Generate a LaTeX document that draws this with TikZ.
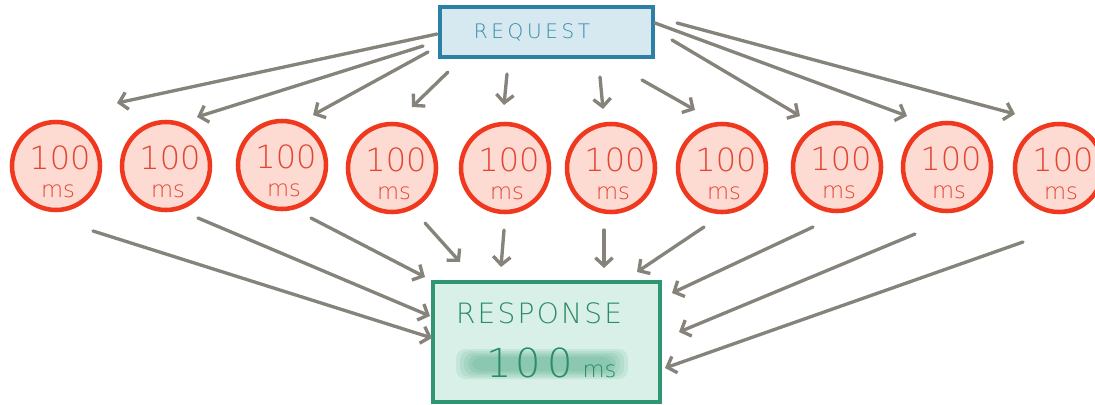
\documentclass[tikz,border=0pt]{standalone}
\usepackage{fontspec}
\usetikzlibrary{arrows.meta}
\newfontfamily\hand{DejaVu Sans ExtraLight}
\definecolor{arrowgray}{RGB}{134,131,122}
\definecolor{reqfill}{RGB}{214,233,240}
\definecolor{reqline}{RGB}{44,128,166}
\definecolor{reqtext}{RGB}{52,136,170}
\definecolor{respfill}{RGB}{217,240,232}
\definecolor{respline}{RGB}{46,150,112}
\definecolor{resptext}{RGB}{40,140,100}
\definecolor{bandgreen}{RGB}{60,160,120}
\definecolor{callfill}{RGB}{253,218,210}
\definecolor{callline}{RGB}{240,56,30}
\definecolor{calltext}{RGB}{226,70,50}
\tikzset{
  flow/.style={draw=arrowgray, line width=2.5pt, line cap=round,
    -{Straight Barb[length=6pt,width=13pt,line width=2.5pt]}},
  reqbox/.style={draw=reqline, fill=reqfill, line width=2.8pt,
    minimum width=213*0.75pt, minimum height=50*0.75pt, inner sep=0pt},
  respbox/.style={draw=respline, fill=respfill, line width=2.8pt,
    minimum width=227*0.75pt, minimum height=120*0.75pt, inner sep=0pt},
  call/.style={circle, draw=callline, fill=callfill, line width=3.4pt,
    minimum size=88*0.75pt, inner sep=0pt},
  calltxt/.style={text=calltext, font=\hand\fontsize{24}{24}\selectfont, inner sep=0pt},
  msstyle/.style={text=calltext, font=\hand\fontsize{17}{17}\selectfont, inner sep=0pt},
}
\begin{document}
\begin{tikzpicture}[x=0.75pt, y=-0.75pt]
  \useasboundingbox (0,0) rectangle (1095,404);

  % request and response boxes
  \node[reqbox] (req) at (546.5,32) {};
  \node[text=reqtext, font=\hand\fontsize{15}{15}\selectfont\addfontfeatures{LetterSpace=18}] (reqlbl) at (532,32) {REQUEST};

  \node[respbox] (resp) at (546.5,342) {};
  % soft highlight behind the timing
  \foreach \w/\h in {86/15,82/13,78/11,74/9,70/7} {
    \fill[bandgreen, opacity=0.12, rounded corners=7pt]
      ([shift={(-\w,-\h)}]542,364) rectangle ([shift={(\w,\h)}]542,364);
  }
  \node[text=resptext, font=\hand\fontsize{21}{21}\selectfont\addfontfeatures{LetterSpace=8}] (resplbl) at (539,313) {RESPONSE};
  \node[text=resptext, font=\hand\fontsize{30}{30}\selectfont, inner sep=0pt, anchor=base west] (resptime) at (486,377)
    {1\hspace{3pt}0\hspace{5pt}0\hspace{7pt}{\fontsize{17}{17}\selectfont ms}};

  % the ten parallel calls
  \foreach \i/\x/\y in {1/56/166,2/166/166,3/282/165,4/392/168,5/505/168,
                        6/611/168,7/722/168,8/837/167,9/947/167,10/1059/168} {
    \node[call] (c\i) at (\x,\y) {};
    \node[calltxt] (n\i) at (\x+4,\y-8) {100};
    \node[msstyle] (m\i) at (\x+2,\y+25) {ms};
  }

  % fan out: request -> calls
  \draw[flow] ([shift={(-109.5,2)}]req.center)  -- ([shift={(61,-63)}]c1.center);
  \draw[flow] ([shift={(-123.5,14)}]req.center) -- ([shift={(31,-49)}]c2.center);
  \draw[flow] ([shift={(-118.5,20)}]req.center) -- ([shift={(31,-50)}]c3.center);
  \draw[flow] ([shift={(-98.5,40)}]req.center)  -- ([shift={(20,-61)}]c4.center);
  \draw[flow] ([shift={(-39.5,42)}]req.center)  -- ([shift={(-1,-63)}]c5.center);
  \draw[flow] ([shift={(53.5,45)}]req.center)   -- ([shift={(-8,-59)}]c6.center);
  \draw[flow] ([shift={(95.5,48)}]req.center)   -- ([shift={(-27,-58)}]c7.center);
  \draw[flow] ([shift={(125.5,8)}]req.center)   -- ([shift={(-37,-51)}]c8.center);
  \draw[flow] ([shift={(108.5,-9)}]req.center)  -- ([shift={(-40,-51)}]c9.center);
  \draw[flow] ([shift={(130.5,-9)}]req.center)  -- ([shift={(-44,-54)}]c10.center);

  % fan in: calls -> response
  \draw[flow] ([shift={(37,65)}]c1.center)  -- ([shift={(-114.5,-4)}]resp.center);
  \draw[flow] ([shift={(32,52)}]c2.center)  -- ([shift={(-116.5,-26)}]resp.center);
  \draw[flow] ([shift={(29,53)}]c3.center)  -- ([shift={(-121.5,-65)}]resp.center);
  \draw[flow] ([shift={(33,55)}]c4.center)  -- ([shift={(-86.5,-80)}]resp.center);
  \draw[flow] ([shift={(-1,62)}]c5.center)  -- ([shift={(-45.5,-75)}]resp.center);
  \draw[flow] ([shift={(-7,62)}]c6.center)  -- ([shift={(57.5,-74)}]resp.center);
  \draw[flow] ([shift={(-18,59)}]c7.center) -- ([shift={(90.5,-70)}]resp.center);
  \draw[flow] ([shift={(-24,60)}]c8.center) -- ([shift={(125.5,-49)}]resp.center);
  \draw[flow] ([shift={(-32,67)}]c9.center) -- ([shift={(132.5,-10)}]resp.center);
  \draw[flow] ([shift={(-36,74)}]c10.center) -- ([shift={(118.5,26)}]resp.center);
\end{tikzpicture}
\end{document}
